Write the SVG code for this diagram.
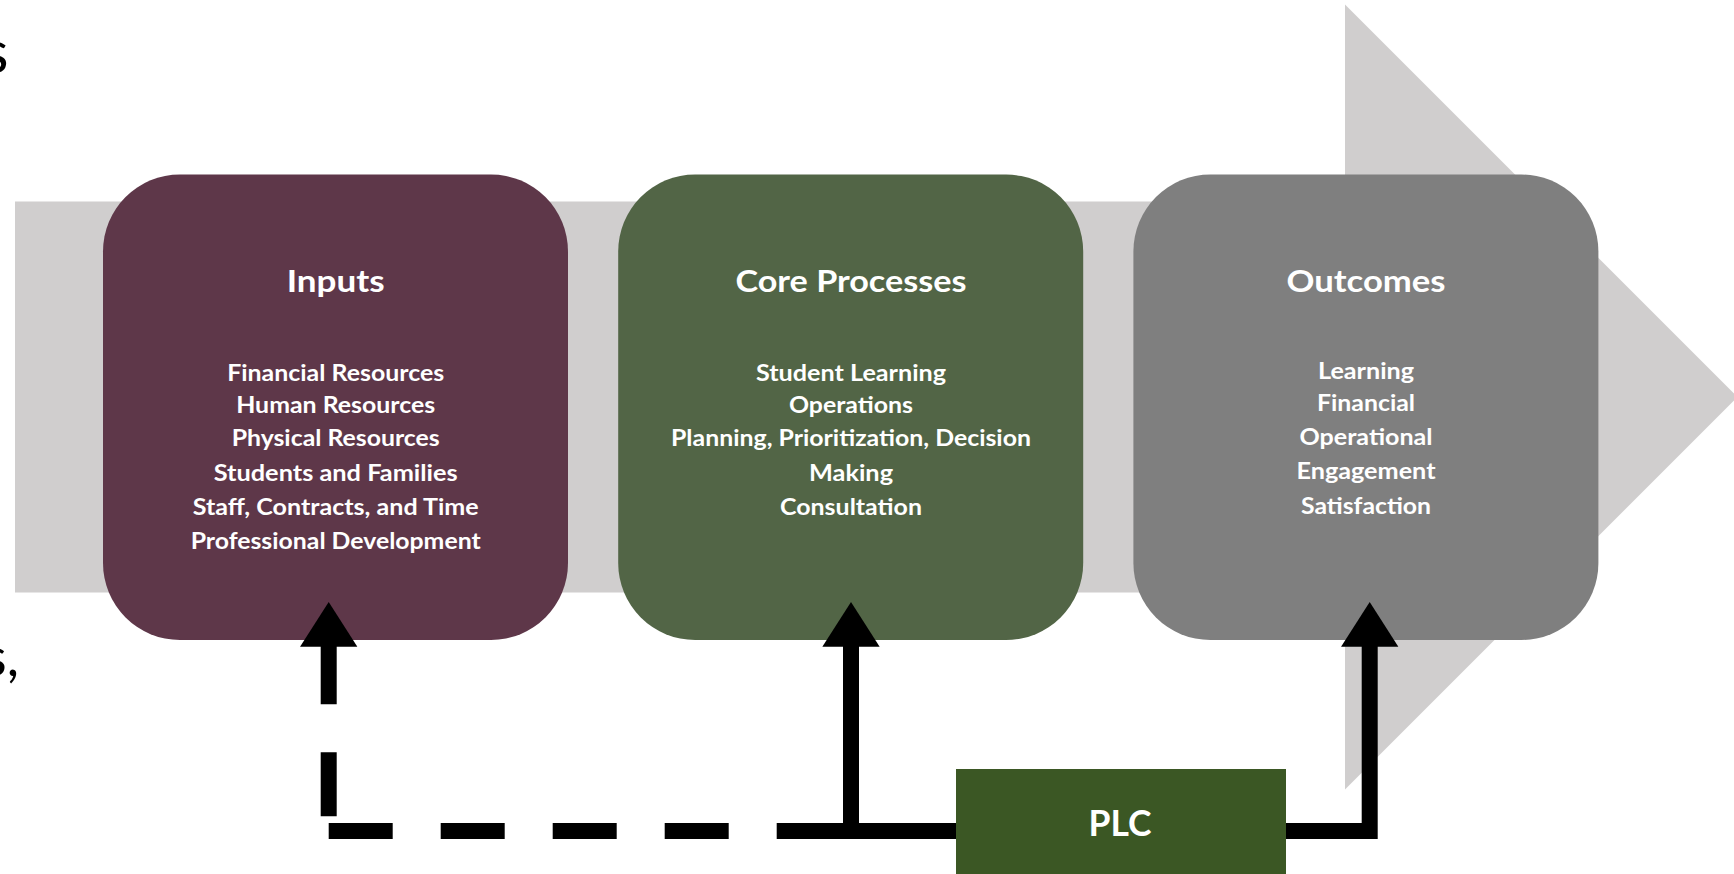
<svg xmlns="http://www.w3.org/2000/svg" width="1734" height="874" viewBox="0 0 1734 874">
<style>
.t{font-family:Lato,"Open Sans","Liberation Sans",sans-serif;font-weight:700;fill:#fff;text-anchor:middle}
.h{font-size:30px}
.b{font-size:22px}
.p{font-size:36px}
.frag{font-family:Lato,"Liberation Sans",sans-serif;fill:#000;text-anchor:end}
.ln{stroke:#000;stroke-width:16;fill:none}
.dash{stroke-dasharray:64 48}
.box{stroke:none}
</style>
<defs>
<path id="head" d="M-28.65,0 L0,-44.7 L28.65,0 Z" fill="#000"/>
</defs>
<rect x="0" y="0" width="1734" height="874" fill="#fff"/>
<g id="flow-arrow">
<path d="M15,201.5 H1345 V4.5 L1737.5,397 L1345,789.5 V592.5 H15 Z" fill="#D0CECE"/>
</g>
<g id="fragments">
<text class="frag" x="8.5" y="72.5" font-size="60">s</text>
<text class="frag" x="19" y="676" font-size="54">s,</text>
</g>
<g id="inputs">
<rect class="box" x="103" y="174.5" width="465" height="465.5" rx="77" fill="#5E3749"/>
<text class="t h" x="335.7" y="291.5" textLength="98" lengthAdjust="spacingAndGlyphs">Inputs</text>
<text class="t b" x="335.7" y="380.7" textLength="217" lengthAdjust="spacingAndGlyphs">Financial Resources</text>
<text class="t b" x="335.7" y="412.5" textLength="199" lengthAdjust="spacingAndGlyphs">Human Resources</text>
<text class="t b" x="335.7" y="446.4" textLength="208" lengthAdjust="spacingAndGlyphs">Physical Resources</text>
<text class="t b" x="335.7" y="481" textLength="244" lengthAdjust="spacingAndGlyphs">Students and Families</text>
<text class="t b" x="335.7" y="515.4" textLength="286" lengthAdjust="spacingAndGlyphs">Staff, Contracts, and Time</text>
<text class="t b" x="335.7" y="549.3" textLength="290" lengthAdjust="spacingAndGlyphs">Professional Development</text>
</g>
<g id="core-processes">
<rect class="box" x="618.2" y="174.5" width="465" height="465.5" rx="77" fill="#526546"/>
<text class="t h" x="851" y="291.5" textLength="231" lengthAdjust="spacingAndGlyphs">Core Processes</text>
<text class="t b" x="851" y="380.7" textLength="190" lengthAdjust="spacingAndGlyphs">Student Learning</text>
<text class="t b" x="851" y="412.5" textLength="124" lengthAdjust="spacingAndGlyphs">Operations</text>
<text class="t b" x="851" y="446.4" textLength="360" lengthAdjust="spacingAndGlyphs">Planning, Prioritization, Decision</text>
<text class="t b" x="851" y="481" textLength="84" lengthAdjust="spacingAndGlyphs">Making</text>
<text class="t b" x="851" y="515.4" textLength="142" lengthAdjust="spacingAndGlyphs">Consultation</text>
</g>
<g id="outcomes">
<rect class="box" x="1133.4" y="174.5" width="465" height="465.5" rx="77" fill="#7F7F7F"/>
<text class="t h" x="1366" y="291.5" textLength="159" lengthAdjust="spacingAndGlyphs">Outcomes</text>
<text class="t b" x="1366" y="379" textLength="96" lengthAdjust="spacingAndGlyphs">Learning</text>
<text class="t b" x="1366" y="411.4" textLength="98" lengthAdjust="spacingAndGlyphs">Financial</text>
<text class="t b" x="1366" y="444.8" textLength="133" lengthAdjust="spacingAndGlyphs">Operational</text>
<text class="t b" x="1366" y="479.4" textLength="139" lengthAdjust="spacingAndGlyphs">Engagement</text>
<text class="t b" x="1366" y="514" textLength="130" lengthAdjust="spacingAndGlyphs">Satisfaction</text>
</g>
<g id="connectors">
<line class="ln dash" x1="328.7" y1="640.3" x2="328.7" y2="816.7"/>
<line class="ln dash" x1="328.7" y1="831" x2="745" y2="831"/>
<line class="ln" x1="776.7" y1="831" x2="960" y2="831"/>
<line class="ln" x1="851" y1="823" x2="851" y2="646"/>
<polyline class="ln" points="1280,831 1369.7,831 1369.7,646" stroke-linejoin="miter"/>
<use href="#head" x="328.7" y="646.7"/>
<use href="#head" x="851" y="646.7"/>
<use href="#head" x="1369.7" y="646.7"/>
</g>
<g id="plc">
<rect class="box" x="956" y="769" width="330" height="110" fill="#3B5724"/>
<text class="t p" x="1120" y="836" textLength="63" lengthAdjust="spacingAndGlyphs">PLC</text>
</g>
</svg>
